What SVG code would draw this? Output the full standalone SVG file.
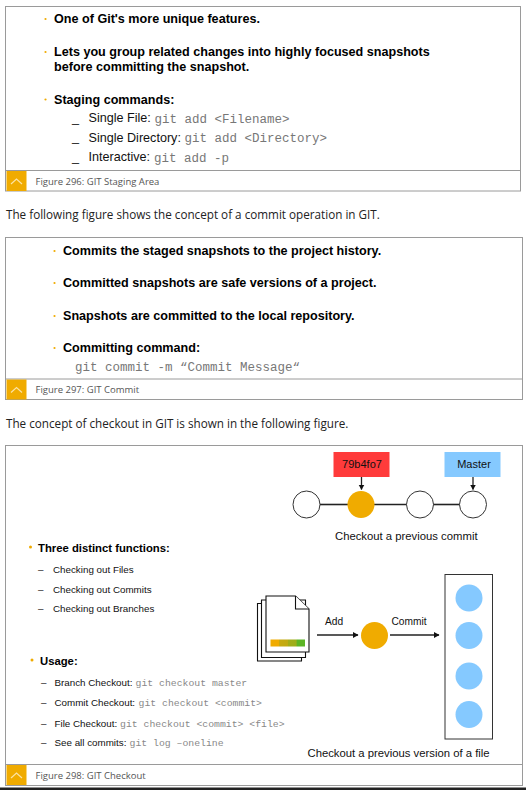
<svg xmlns="http://www.w3.org/2000/svg" width="526" height="790" viewBox="0 0 526 790">
<defs>
<marker id="ah" markerWidth="7" markerHeight="7" refX="5" refY="3.5" orient="auto" markerUnits="userSpaceOnUse"><path d="M0 0.500L5.500 3.500L0 6.500z" fill="#111"/></marker>
<linearGradient id="bar" x1="0" x2="1" y1="0" y2="0"><stop offset="0" stop-color="#f0ab00"/><stop offset="0.25" stop-color="#f0ab00"/><stop offset="0.26" stop-color="#c8aa10"/><stop offset="0.5" stop-color="#c0aa12"/><stop offset="0.51" stop-color="#a4ad18"/><stop offset="0.75" stop-color="#9cae1a"/><stop offset="0.76" stop-color="#5cb525"/><stop offset="1" stop-color="#5cb525"/></linearGradient>
</defs>
<style>
text{font-family:"Liberation Sans",Arial,sans-serif;fill:#000}
.b{font-weight:bold;font-size:12.6px}
.b2{font-weight:bold;font-size:11.3px}
.r{font-size:12.6px;fill:#111}
.s{font-size:9.8px;fill:#111}
.m{font-family:"Liberation Mono","Courier New",monospace;fill:#777}
.m1{font-size:12.5px}
.m2{font-size:9.8px;fill:#888}
.cap{font-family:"Open Sans","Noto Sans",sans-serif;font-size:9.5px;fill:#555}
.para{font-family:"Open Sans","Noto Sans",sans-serif;font-size:11.7px;fill:#222}
.frame{fill:#fff;stroke:#9a9a9a;stroke-width:1}
.sep{stroke:#9a9a9a;stroke-width:1}
.or{fill:#f0ab00}
.chev{fill:none;stroke:#fbe3a6;stroke-width:1.2}
.cw{fill:#fff;stroke:#333;stroke-width:1}
.bl{fill:#85c9ff}
.ln{stroke:#222;stroke-width:1.3;fill:none}
.chain{stroke:#222;stroke-width:1.6;fill:none}
.doc{fill:#fff;stroke:#111;stroke-width:1.1}
.lab{font-size:10.2px;fill:#111}
.big{font-size:11.3px;fill:#111}
.tag{font-size:11px;fill:#111;text-anchor:middle}
</style>
<rect width="526" height="790" fill="#fff"/>
<g id="figure-296">
<rect class="frame" x="5.500" y="6.500" width="515" height="184.500"/>
<line class="sep" x1="6" y1="170.500" x2="520" y2="170.500"/>
<rect class="or" x="6.500" y="171" width="20" height="20"/>
<path class="chev" d="M11 184L16.500 179L22 184"/>
<text class="cap" x="35.500" y="184.500">Figure 296: GIT Staging Area</text>
<circle class="or" cx="45.500" cy="19" r="1.100"/>
<text class="b" x="54" y="23">One of Git's more unique features.</text>
<circle class="or" cx="45.500" cy="52" r="1.100"/>
<text class="b" x="54" y="55.500">Lets you group related changes into highly focused snapshots</text>
<text class="b" x="54" y="71">before committing the snapshot.</text>
<circle class="or" cx="45.500" cy="99.500" r="1.100"/>
<text class="b" x="54" y="103.500">Staging commands:</text>
<text class="r" x="72" y="121.500">_</text><text class="r" x="88.500" y="122">Single File:</text><text class="m m1" x="154.500" y="122.500">git add &lt;Filename&gt;</text>
<text class="r" x="72" y="141">_</text><text class="r" x="88.500" y="141.500">Single Directory:</text><text class="m m1" x="184.500" y="142">git add &lt;Directory&gt;</text>
<text class="r" x="72" y="160.500">_</text><text class="r" x="88.500" y="161">Interactive:</text><text class="m m1" x="154" y="162">git add -p</text>
</g>
<text id="para-commit" class="para" x="6" y="219">The following figure shows the concept of a commit operation in GIT.</text>
<g id="figure-297">
<rect class="frame" x="5.500" y="237.500" width="517" height="162"/>
<line class="sep" x1="6" y1="379" x2="522" y2="379"/>
<rect class="or" x="6.500" y="379.500" width="20" height="20"/>
<path class="chev" d="M11 392.500L16.500 387.500L22 392.500"/>
<text class="cap" x="35.500" y="392.500">Figure 297: GIT Commit</text>
<circle class="or" cx="54.500" cy="251" r="1.100"/>
<text class="b" x="63" y="254.500">Commits the staged snapshots to the project history.</text>
<circle class="or" cx="54.500" cy="283" r="1.100"/>
<text class="b" x="63" y="287">Committed snapshots are safe versions of a project.</text>
<circle class="or" cx="54.500" cy="316" r="1.100"/>
<text class="b" x="63" y="319.500">Snapshots are committed to the local repository.</text>
<circle class="or" cx="54.500" cy="348" r="1.100"/>
<text class="b" x="63" y="352">Committing command:</text>
<text class="m m1" x="75" y="371">git commit -m “Commit Message“</text>
</g>
<text id="para-checkout" class="para" x="6" y="428">The concept of checkout in GIT is shown in the following figure.</text>
<g id="figure-298">
<rect class="frame" x="5.500" y="445.500" width="517" height="340"/>
<line class="sep" x1="6" y1="764.500" x2="522" y2="764.500"/>
<rect class="or" x="6.500" y="765" width="20" height="20"/>
<path class="chev" d="M11 778L16.500 773L22 778"/>
<text class="cap" x="35.500" y="778.500">Figure 298: GIT Checkout</text>
</g>
<g id="list-functions">
<circle class="or" cx="30.500" cy="547" r="1.500"/>
<text class="b2" x="38" y="552">Three distinct functions:</text>
<text class="s" x="38" y="572.500">–</text><text class="s" x="53" y="572.500">Checking out Files</text>
<text class="s" x="38" y="592.500">–</text><text class="s" x="53" y="592.500">Checking out Commits</text>
<text class="s" x="38" y="612">–</text><text class="s" x="53" y="612">Checking out Branches</text>
</g>
<g id="list-usage">
<circle class="or" cx="32" cy="660" r="1.500"/>
<text class="b2" x="40" y="665">Usage:</text>
<text class="s" x="41" y="685.500">–</text><text class="s" x="54.500" y="685.500">Branch Checkout:</text><text class="m m2" x="135.500" y="685.500">git checkout master</text>
<text class="s" x="41" y="706">–</text><text class="s" x="54.500" y="706">Commit Checkout:</text><text class="m m2" x="138.500" y="706">git checkout &lt;commit&gt;</text>
<text class="s" x="41" y="727">–</text><text class="s" x="54.500" y="727">File Checkout:</text><text class="m m2" x="120" y="727">git checkout &lt;commit&gt; &lt;file&gt;</text>
<text class="s" x="41" y="746">–</text><text class="s" x="54.500" y="746">See all commits:</text><text class="m m2" x="129.500" y="746">git log –oneline</text>
</g>
<g id="connectors">
<line class="chain" x1="320" y1="504.500" x2="348" y2="504.500"/>
<line class="chain" x1="374" y1="504.500" x2="407" y2="504.500"/>
<line class="chain" x1="433" y1="504.500" x2="460" y2="504.500"/>
<line class="ln" x1="361.500" y1="477" x2="361.500" y2="489.500" marker-end="url(#ah)"/>
<line class="ln" x1="473" y1="477" x2="473" y2="489.500" marker-end="url(#ah)"/>
<line class="ln" x1="317" y1="635" x2="358" y2="635" marker-end="url(#ah)"/>
<line class="ln" x1="390" y1="635" x2="439" y2="635" marker-end="url(#ah)"/>
</g>
<g id="tag-79b4fo7"><rect x="333.500" y="452" width="56" height="25" fill="#ff3b3b"/><text class="tag" x="362" y="468">79b4fo7</text></g>
<g id="tag-master"><rect x="444.500" y="452" width="56" height="25" fill="#85c9ff"/><text class="tag" x="474" y="468">Master</text></g>
<g id="commit-1"><circle class="cw" cx="306.500" cy="504.500" r="13.500"/></g>
<g id="commit-2"><circle class="or" cx="361" cy="504.500" r="13.500"/></g>
<g id="commit-3"><circle class="cw" cx="420" cy="504.500" r="13.500"/></g>
<g id="commit-4"><circle class="cw" cx="473" cy="504.500" r="13.500"/></g>
<text id="label-prev-commit" class="big" x="335" y="540">Checkout a previous commit</text>
<g id="files">
<path class="doc" d="M257.500 603.500H301.500V661H257.500z"/>
<path class="doc" d="M261.500 600H305.500V657.500H261.500z"/>
<path class="doc" d="M266 596H295.500L309 609V652H266z"/>
<path class="doc" d="M295.500 596V609H309" fill="none"/>
<rect x="270.500" y="639.500" width="34.500" height="7" fill="url(#bar)"/>
</g>
<text id="label-add" class="lab" x="325" y="625">Add</text>
<text id="label-commit" class="lab" x="391.500" y="625">Commit</text>
<g id="stage-node"><circle class="or" cx="374.500" cy="635.500" r="13.500"/></g>
<g id="repository">
<rect x="445" y="574.500" width="47.500" height="164.500" fill="#fff" stroke="#333" stroke-width="1"/>
<circle class="bl" cx="469" cy="598" r="13.500"/>
<circle class="bl" cx="469" cy="635.500" r="13.500"/>
<circle class="bl" cx="469" cy="676" r="13.500"/>
<circle class="bl" cx="469" cy="714.500" r="13.500"/>
</g>
<text id="label-prev-file" class="big" x="307.500" y="757">Checkout a previous version of a file</text>
<rect id="page-edge" x="0" y="787.500" width="526" height="2.500" fill="#222"/>
</svg>
